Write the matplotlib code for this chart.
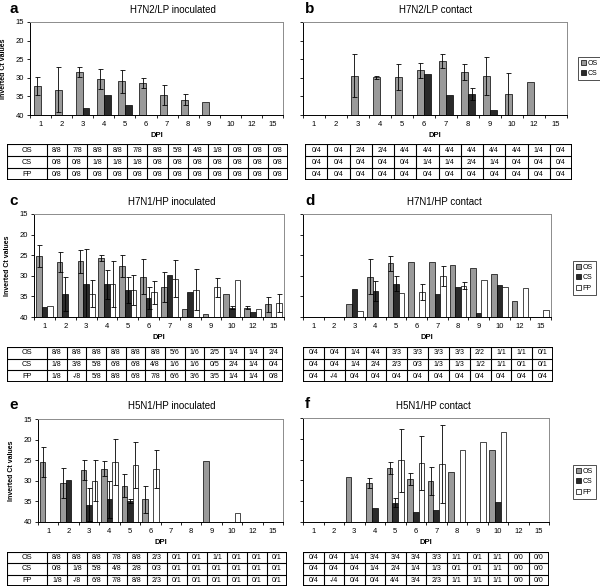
import numpy as np
import matplotlib
matplotlib.use("Agg")
import matplotlib.pyplot as plt
from matplotlib.patches import Patch

plt.rcParams['font.family'] = ['Liberation Sans', 'DejaVu Sans']

W, H = 600, 587
nan = np.nan

dpi_labels = ["1", "2", "3", "4", "5", "6", "7", "8", "9", "10", "12", "15"]

# a - H7N2/LP inoculated
os_a = [32.1, 33.2, 28.5, 30.2, 30.9, 31.4, 34.6, 35.9, 36.6, nan, nan, nan]
os_a_err = [2.4, 6.0, 1.3, 2.7, 3.1, 1.3, 2.7, 1.5, 0, 0, 0, 0]
cs_a = [nan, nan, 38.0, 34.5, 37.4, nan, nan, nan, nan, nan, nan, nan]
cs_a_err = [0] * 12

# b - H7N2/LP contact
os_b = [nan, nan, 29.4, 29.9, 29.7, 28.0, 25.5, 28.5, 29.5, 34.3, 31.1, nan]
os_b_err = [0, 0, 5.7, 0.5, 3.5, 2.1, 1.8, 2.1, 5.2, 5.7, 0, 0]
cs_b = [nan, nan, nan, nan, nan, 29.0, 34.6, 34.3, 38.6, nan, nan, nan]
cs_b_err = [0, 0, 0, 0, 0, 0, 0, 1.6, 0, 0, 0, 0]

# c - H7N1/HP inoculated
os_c = [25.2, 26.6, 26.5, 25.7, 27.6, 30.2, 32.7, 38.0, 39.2, 34.4, 37.7, 36.9]
os_c_err = [2.7, 2.4, 2.7, 0.8, 2.7, 4.2, 3.6, 0, 0, 0, 0.3, 1.8]
cs_c = [37.5, 34.5, 31.9, 32.1, 33.5, 35.3, 29.7, 34.0, nan, 37.7, 38.7, nan]
cs_c_err = [0, 4.1, 8.3, 3.6, 3.2, 2.7, 0, 0, 0, 0.4, 0, 0]
fp_c = [37.3, nan, 34.3, 32.0, 33.4, 34.0, 30.7, 33.4, 32.8, 30.9, 38.0, 36.6]
fp_c_err = [0, 0, 3.2, 5.5, 3.7, 2.8, 4.5, 5.0, 2.3, 0, 0, 2.1]

# d - H7N1/HP contact
os_d = [nan, nan, 36.9, 30.2, 27.0, 26.7, 26.7, 27.4, 28.1, 29.5, 36.0, nan]
os_d_err = [0, 0, 0, 4.2, 1.8, 0, 0, 0, 0, 0, 0, 0]
cs_d = [nan, nan, 33.1, 33.7, 31.9, nan, 34.4, 32.7, 39.1, 32.2, nan, nan]
cs_d_err = [0, 0, 0, 2.5, 1.9, 0, 0, 0, 0, 0, 0, 0]
fp_d = [nan, nan, 38.5, nan, 34.1, 33.9, 30.0, 32.4, 31.0, 32.8, 33.0, 38.3]
fp_d_err = [0, 0, 0, 0, 0, 2.0, 2.5, 0.8, 0, 0, 0, 0]

# e - H5N1/HP inoculated
os_e = [25.5, 30.6, 27.4, 27.1, 31.2, 34.5, nan, nan, 25.2, nan, nan, nan]
os_e_err = [3.6, 3.6, 2.5, 1.8, 2.8, 3.2, 0, 0, 0, 0, 0, 0]
cs_e = [nan, 29.8, 35.8, 34.5, 34.9, nan, nan, nan, nan, nan, nan, nan]
cs_e_err = [0, 0, 4.0, 4.5, 0.5, 0, 0, 0, 0, 0, 0, 0]
fp_e = [nan, nan, 30.0, 25.5, 26.2, 27.2, nan, nan, nan, 37.7, nan, nan]
fp_e_err = [0, 0, 5.0, 5.6, 5.6, 4.6, 0, 0, 0, 0, 0, 0]

# f - H5N1/HP contact
os_f = [nan, nan, 29.2, 30.6, 27.0, 29.6, 30.1, 28.0, nan, 22.6, nan, nan]
os_f_err = [0, 0, 0, 1.2, 1.5, 1.4, 3.3, 0, 0, 0, 0, 0]
cs_f = [nan, nan, nan, 36.7, 35.4, 37.5, 37.0, nan, nan, 35.2, nan, nan]
cs_f_err = [0, 0, 0, 0, 1.1, 0, 0, 0, 0, 0, 0, 0]
fp_f = [nan, nan, nan, nan, 25.2, 25.8, 26.0, 22.6, 20.7, 18.3, nan, nan]
fp_f_err = [0, 0, 0, 0, 7.6, 6.4, 9.4, 0, 0, 0, 0, 0]

# positive / total tables
row_names = ["OS", "CS", "FP"]
tab_a = [["8/8", "7/8", "8/8", "8/8", "7/8", "8/8", "5/8", "4/8", "1/8", "0/8", "0/8", "0/8"],
         ["0/8", "0/8", "1/8", "1/8", "1/8", "0/8", "0/8", "0/8", "0/8", "0/8", "0/8", "0/8"],
         ["0/8"] * 12]
tab_b = [["0/4", "0/4", "2/4", "2/4", "4/4", "4/4", "4/4", "4/4", "4/4", "4/4", "1/4", "0/4"],
         ["0/4", "0/4", "0/4", "0/4", "0/4", "1/4", "1/4", "2/4", "1/4", "0/4", "0/4", "0/4"],
         ["0/4"] * 12]
tab_c = [["8/8", "8/8", "8/8", "8/8", "8/8", "8/8", "5/6", "1/6", "2/5", "1/4", "1/4", "2/4"],
         ["1/8", "3/8", "5/8", "6/8", "6/8", "4/8", "1/6", "1/6", "0/5", "2/4", "1/4", "0/4"],
         ["1/8", "-/8", "5/8", "8/8", "6/8", "7/8", "6/6", "3/6", "3/5", "1/4", "1/4", "0/8"]]
tab_d = [["0/4", "0/4", "1/4", "4/4", "3/3", "3/3", "3/3", "3/3", "2/2", "1/1", "1/1", "0/1"],
         ["0/4", "0/4", "1/4", "2/4", "2/3", "0/3", "1/3", "1/3", "1/2", "1/1", "0/1", "0/1"],
         ["0/4", "-/4", "0/4", "0/4", "0/4", "0/4", "0/4", "0/4", "0/4", "0/4", "0/4", "0/4"]]
tab_e = [["8/8", "8/8", "8/8", "7/8", "8/8", "2/3", "0/1", "0/1", "1/1", "0/1", "0/1", "0/1"],
         ["0/8", "1/8", "5/8", "4/8", "2/8", "0/3", "0/1", "0/1", "0/1", "0/1", "0/1", "0/1"],
         ["1/8", "-/8", "6/8", "7/8", "8/8", "2/3", "0/1", "0/1", "0/1", "0/1", "0/1", "0/1"]]
tab_f = [["0/4", "0/4", "1/4", "3/4", "3/4", "3/4", "3/3", "1/1", "0/1", "1/1", "0/0", "0/0"],
         ["0/4", "0/4", "0/4", "1/4", "2/4", "1/4", "1/3", "0/1", "0/1", "1/1", "0/0", "0/0"],
         ["0/4", "-/4", "0/4", "0/4", "4/4", "3/4", "2/3", "1/1", "1/1", "1/1", "0/0", "0/0"]]

OS_COLOR = "#9a9a9a"
CS_COLOR = "#2a2a2a"
FP_COLOR = "white"

fig = plt.figure(figsize=(6, 5.87), dpi=100)


def px_axes(left, top, right, bottom):
    return fig.add_axes([left / W, 1 - bottom / H, (right - left) / W, (bottom - top) / H])


def bar_panel(rect, series, width, show_ylabels):
    ax = px_axes(*rect)
    x = np.arange(len(dpi_labels))
    n = len(series)
    for i, (vals, errs, color) in enumerate(series):
        vals = np.asarray(vals, float)
        errs = np.asarray(errs, float)
        off = (i - (n - 1) / 2) * width
        ax.bar(x + off, vals - 40, width, bottom=40, color=color,
               edgecolor="black", linewidth=0.5, zorder=2)
        m = (errs > 0) & ~np.isnan(vals)
        ax.errorbar(x[m] + off, vals[m], yerr=errs[m], fmt="none", ecolor="black",
                    elinewidth=0.6, capsize=1.8, capthick=0.6, zorder=3)
    ax.set_ylim(40, 15)
    ax.set_xlim(-0.5, len(dpi_labels) - 0.5)
    ax.set_yticks([15, 20, 25, 30, 35, 40])
    if show_ylabels:
        ax.set_yticklabels(["15", "20", "25", "30", "35", "40"], fontsize=5.5)
        ax.set_ylabel("Inverted Ct values", fontsize=5, fontweight="bold", labelpad=6)
    else:
        ax.set_yticklabels([])
    ax.set_xticks(x)
    ax.set_xticklabels(dpi_labels, fontsize=5.5)
    ax.set_xticks(np.arange(len(dpi_labels) + 1) - 0.5, minor=True)
    ax.tick_params(axis="x", which="major", length=0, pad=4)
    ax.tick_params(axis="x", which="minor", length=2.5, width=0.6, direction="out")
    ax.tick_params(axis="y", length=2.5, width=0.6, direction="out", pad=2)
    ax.set_xlabel("DPI", fontsize=5.5, fontweight="bold", labelpad=3)
    for side in ["left", "bottom"]:
        ax.spines[side].set_linewidth(0.7)
        ax.spines[side].set_color("black")
    for side in ["top", "right"]:
        ax.spines[side].set_linewidth(0.7)
        ax.spines[side].set_color("#8c8c8c")
    return ax


def draw_table(rect, rows, labels=None):
    left, top, right, bottom = rect
    ax = px_axes(left, top, right, bottom)
    tw, th = right - left, bottom - top
    ax.set_xlim(0, tw)
    ax.set_ylim(th, 0)
    ax.axis("off")
    label_w = 40 if labels else 0
    ncol = len(rows[0])
    cw = (tw - label_w) / ncol
    rh = th / len(rows)
    edges = [0] + [label_w + k * cw for k in range(ncol + 1)] if labels else [k * cw for k in range(ncol + 1)]
    for xe in edges:
        ax.plot([xe, xe], [0, th], color="black", lw=0.8, solid_capstyle="butt")
    for r in range(len(rows) + 1):
        ax.plot([0, tw], [r * rh, r * rh], color="black", lw=0.8, solid_capstyle="butt")
    ax.plot([0, tw, tw, 0, 0], [0, 0, th, th, 0], color="black", lw=1.4)
    for r, row in enumerate(rows):
        yc = (r + 0.5) * rh
        if labels:
            ax.text(label_w / 2, yc, labels[r], ha="center", va="center", fontsize=5.3)
        for c, val in enumerate(row):
            ax.text(label_w + (c + 0.5) * cw, yc, val, ha="center", va="center", fontsize=5)


def add_legend(x, y, names):
    colors = {"OS": OS_COLOR, "CS": CS_COLOR, "FP": FP_COLOR}
    handles = [Patch(facecolor=colors[n], edgecolor="black", linewidth=0.5, label=n) for n in names]
    leg = fig.legend(handles=handles, loc="upper left", bbox_to_anchor=(x / W, 1 - y / H),
                     fontsize=5, frameon=True, fancybox=False, edgecolor="black",
                     handlelength=0.7, handleheight=0.7, borderpad=0.4,
                     labelspacing=0.5, handletextpad=0.3, borderaxespad=0)
    leg.get_frame().set_linewidth(0.6)


# panels
bar_panel((30, 22, 283, 115), [(os_a, os_a_err, OS_COLOR), (cs_a, cs_a_err, CS_COLOR)], 0.32, True)
bar_panel((303, 22, 567, 115), [(os_b, os_b_err, OS_COLOR), (cs_b, cs_b_err, CS_COLOR)], 0.32, False)
bar_panel((34, 214, 284, 317), [(os_c, os_c_err, OS_COLOR), (cs_c, cs_c_err, CS_COLOR),
                                (fp_c, fp_c_err, FP_COLOR)], 0.27, True)
bar_panel((303, 214, 551, 317), [(os_d, os_d_err, OS_COLOR), (cs_d, cs_d_err, CS_COLOR),
                                 (fp_d, fp_d_err, FP_COLOR)], 0.27, False)
bar_panel((38, 419, 283, 522), [(os_e, os_e_err, OS_COLOR), (cs_e, cs_e_err, CS_COLOR),
                                (fp_e, fp_e_err, FP_COLOR)], 0.27, True)
bar_panel((303, 418, 549, 522), [(os_f, os_f_err, OS_COLOR), (cs_f, cs_f_err, CS_COLOR),
                                 (fp_f, fp_f_err, FP_COLOR)], 0.27, False)

# tables
draw_table((7, 144, 288, 180), tab_a, row_names)
draw_table((305, 144, 572, 180), tab_b)
draw_table((7, 347, 283, 382), tab_c, row_names)
draw_table((303, 347, 553, 382), tab_d)
draw_table((7, 552, 287, 586), tab_e, row_names)
draw_table((303, 552, 549, 586), tab_f)

add_legend(578, 57, ["OS", "CS"])
add_legend(573, 261, ["OS", "CS", "FP"])
add_legend(573, 465, ["OS", "CS", "FP"])

# panel letters and titles
for letter, lx, ly in [("a", 9, 9), ("b", 305, 9), ("c", 9, 201),
                       ("d", 305, 201), ("e", 9, 405), ("f", 305, 404)]:
    fig.text(lx / W, 1 - ly / H, letter, fontsize=11, fontweight="bold", ha="left", va="center")

for title, tx, ty in [("H7N2/LP inoculated", 173, 10), ("H7N2/LP contact", 436, 10),
                      ("H7N1/HP inoculated", 172, 202), ("H7N1/HP contact", 444, 202),
                      ("H5N1/HP inoculated", 172, 406), ("H5N1/HP contact", 433, 406)]:
    fig.text(tx / W, 1 - ty / H, title, fontsize=7, ha="center", va="center")

fig.savefig("out.png", dpi=100)
